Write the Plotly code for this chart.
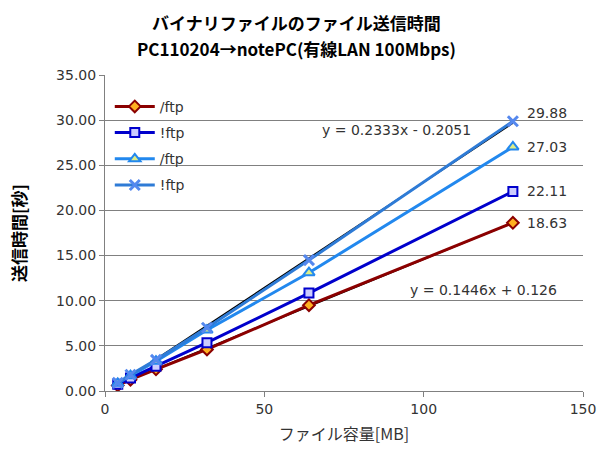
import plotly.graph_objects as go

# File sizes (MB) and transfer times (seconds)
sizes_mb = [4, 8, 16, 32, 64, 128]
series_names = ["/ftp", "!ftp", "/ftp", "!ftp"]
times_s1 = [0.62, 1.25, 2.40, 4.60, 9.50, 18.63]
times_s2 = [0.75, 1.45, 2.75, 5.35, 10.85, 22.11]
times_s3 = [0.85, 1.70, 3.30, 6.75, 13.10, 27.03]
times_s4 = [0.90, 1.80, 3.45, 7.00, 14.50, 29.88]

# Linear trendline coefficients (slope, intercept)
trend_s1 = (0.1446, 0.126)
trend_s4 = (0.2333, -0.2051)
trend_labels = ["y = 0.1446x + 0.126", "y = 0.2333x - 0.2051"]

x_ticks = [0, 50, 100, 150]
y_ticks = [0, 5, 10, 15, 20, 25, 30, 35]

NUM_FONT = "DejaVu Sans, Noto Sans CJK JP"
JP_FONT = "Noto Sans CJK JP, DejaVu Sans"
TXT = "#333333"

styles = [
    dict(line="#8B0000", fill="#FFB020", symbol="diamond", size=9),
    dict(line="#0000CC", fill="#CCCCFF", symbol="square", size=9),
    dict(line="#2288EE", fill="#DDEE88", symbol="triangle-up", size=10),
    dict(line="#2E7BD6", fill="#5588EE", symbol="x", size=10),
]
series = [times_s1, times_s2, times_s3, times_s4]

fig = go.Figure()

# trendlines drawn underneath the data lines
for slope, icpt in (trend_s1, trend_s4):
    tx = [sizes_mb[0], sizes_mb[-1]]
    fig.add_trace(go.Scatter(
        x=tx, y=[slope * v + icpt for v in tx], mode="lines",
        line=dict(color="black", width=1.5), showlegend=False, hoverinfo="skip"))

for i, (name, ys, st) in enumerate(zip(series_names, series, styles)):
    if st["symbol"] == "x":
        marker = dict(symbol="x-thin", size=10, color=st["fill"],
                      line=dict(color=st["fill"], width=3))
    else:
        marker = dict(symbol=st["symbol"], size=st["size"], color=st["fill"],
                      line=dict(color=st["line"], width=2))
    fig.add_trace(go.Scatter(
        x=sizes_mb, y=ys, name=name, mode="lines+markers",
        line=dict(color=st["line"], width=3), marker=marker,
        legendgroup=f"g{i}"))

# value labels at the last point of each series
label_shift = [0, 0, 0, 8]
for ys, dy in zip(series, label_shift):
    fig.add_annotation(x=sizes_mb[-1], y=ys[-1], text=f"{ys[-1]:.2f}",
                       showarrow=False, xanchor="left", xshift=12, yshift=dy,
                       font=dict(family=NUM_FONT, size=14, color=TXT))

# trendline equations
fig.add_annotation(x=91.5, y=28.9, text=trend_labels[1], showarrow=False,
                   xanchor="center", font=dict(family=NUM_FONT, size=14, color=TXT))
fig.add_annotation(x=118.9, y=11.2, text=trend_labels[0], showarrow=False,
                   xanchor="center", font=dict(family=NUM_FONT, size=14, color=TXT))

# two-line title
for txt, ypx in (("<b>バイナリファイルのファイル送信時間</b>", 22),
                 ("<b>PC110204→notePC(有線LAN 100Mbps)</b>", 48)):
    fig.add_annotation(x=(296 - 105) / 478, y=(391 - ypx) / 316, xref="paper", yref="paper",
                       text=txt, showarrow=False, xanchor="center", yanchor="middle",
                       font=dict(family=JP_FONT, size=17, color="black"))

fig.update_layout(
    width=597, height=450,
    margin=dict(l=105, r=14, t=75, b=59, autoexpand=False),
    paper_bgcolor="white", plot_bgcolor="white",
    showlegend=True,
    legend=dict(x=0.01, y=0.95, xanchor="left", yanchor="top",
                bgcolor="rgba(0,0,0,0)", tracegroupgap=5, itemwidth=40,
                font=dict(family=NUM_FONT, size=14, color=TXT)),
    xaxis=dict(range=[0, 150], tickvals=x_ticks, ticktext=[str(v) for v in x_ticks],
               automargin=False,
               showgrid=False, zeroline=False, showline=True, linecolor="#808080",
               ticks="outside", ticklen=5, tickcolor="#808080",
               tickfont=dict(family=NUM_FONT, size=14, color=TXT),
               title=dict(text="ファイル容量[MB]", standoff=13,
                          font=dict(family=JP_FONT, size=16, color=TXT))),
    yaxis=dict(range=[0, 35], tickvals=y_ticks, ticktext=[f"{v:.2f}" for v in y_ticks],
               automargin=False,
               showgrid=True, gridcolor="#808080", gridwidth=1, zeroline=False,
               showline=True, linecolor="#808080",
               ticks="outside", ticklen=5, tickcolor="#808080",
               tickfont=dict(family=NUM_FONT, size=14, color=TXT),
               title=dict(text="<b>送信時間[秒]</b>", standoff=25,
                          font=dict(family=JP_FONT, size=17, color="black"))),
)

fig.write_html("out.html")
